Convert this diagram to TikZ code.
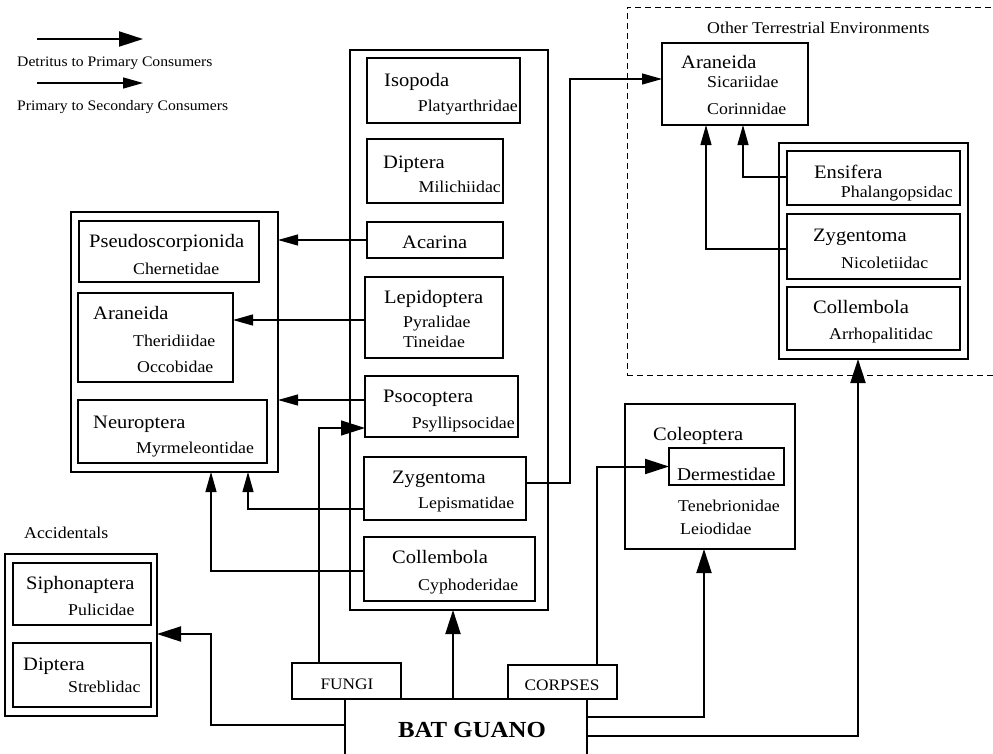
\documentclass[tikz,border=0pt]{standalone}
\usepackage{fontspec}
\setmainfont{Liberation Serif}[FakeStretch=1.08]
\usetikzlibrary{arrows.meta,calc}
\newcommand\mkbox[6]{\node[#1,minimum width={(#5-#3)*1pt},minimum height={(#6-#4)*1pt}] (#2) at ({(#3+#5)/2},{(#4+#6)/2}) {};}
\begin{document}
\begin{tikzpicture}[x=1pt,y=-1pt,
  inbox/.style={draw,rectangle,inner sep=0pt,outer sep=0pt,line width=1.1pt},
  outbox/.style={inbox,line width=2.4pt},
  dashbox/.style={draw,rectangle,inner sep=0pt,outer sep=0pt,line width=0.8pt,dash pattern=on 6pt off 4pt},
  ord/.style={inner sep=0pt,font=\fontsize{19}{21}\selectfont},
  fam/.style={inner sep=0pt,font=\fontsize{16.5}{19}\selectfont},
  lgd/.style={inner sep=0pt,font=\fontsize{14.5}{17}\selectfont},
  srcbox/.style={inner sep=0pt,font=\fontsize{16}{18}\selectfont},
  secarr/.style={line width=1.1pt,-{Triangle[length=20pt,width=11pt]}},
  detarr/.style={line width=2pt,-{Triangle[length=24pt,width=15pt]}},
]
\useasboundingbox (0,0) rectangle (993,753);
\clip (0,0) rectangle (993,753);

% legend
\coordinate (l1a) at (37,39); \coordinate (l1b) at (143,39);
\coordinate (l2a) at (37,83); \coordinate (l2b) at (143,83);
\draw[detarr] (l1a) -- (l1b);
\draw[secarr,line width=1.4pt] (l2a) -- (l2b);
\node[lgd,anchor=base west] (lg1) at (17,66) {Detritus to Primary Consumers};
\node[lgd,anchor=base west] (lg2) at (17,110) {Primary to Secondary Consumers};

% central column
\mkbox{outbox}{cen}{350}{50}{548}{610}
\mkbox{inbox}{iso}{367}{58}{520}{123}
\mkbox{inbox}{dip}{367}{139}{503}{203}
\mkbox{inbox}{aca}{367}{222}{503}{258}
\mkbox{inbox}{lep}{365}{277}{503}{358}
\mkbox{inbox}{pso}{365}{376}{518}{437}
\mkbox{inbox}{zyg}{364}{457}{526}{520}
\mkbox{inbox}{col}{364}{537}{535}{601}
\node[ord,anchor=base west] (t1) at (384,86) {Isopoda};
\node[fam,anchor=base east] (t2) at (518,111) {Platyarthridae};
\node[ord,anchor=base west] (t3) at (383,168) {Diptera};
\node[fam,anchor=base east] (t4) at (501,192) {Milichiidac};
\node[ord,anchor=base west] (t5) at (402,248) {Acarina};
\node[ord,anchor=base west] (t6) at (384,303) {Lepidoptera};
\node[fam,anchor=base west] (t7) at (403,327) {Pyralidae};
\node[fam,anchor=base west] (t8) at (403,347) {Tineidae};
\node[ord,anchor=base west] (t9) at (383,402) {Psocoptera};
\node[fam,anchor=base east] (t10) at (515,428) {Psyllipsocidae};
\node[ord,anchor=base west] (t11) at (392,483) {Zygentoma};
\node[fam,anchor=base west] (t12) at (418,508) {Lepismatidae};
\node[ord,anchor=base west] (t13) at (392,563) {Collembola};
\node[fam,anchor=base west] (t14) at (418,590) {Cyphoderidae};

% predators (left)
\mkbox{outbox}{pred}{71}{212}{278}{472}
\mkbox{inbox}{pse}{79}{221}{259}{282}
\mkbox{inbox}{ara}{78}{293}{233}{382}
\mkbox{inbox}{neu}{78}{400}{267}{463}
\node[ord,anchor=base west] (p1) at (89,247) {Pseudoscorpionida};
\node[fam,anchor=base west] (p2) at (133,274) {Chernetidae};
\node[ord,anchor=base west] (p3) at (93,319) {Araneida};
\node[fam,anchor=base west] (p4) at (133,346) {Theridiidae};
\node[fam,anchor=base west] (p5) at (137,372) {Occobidae};
\node[ord,anchor=base west] (p6) at (93,428) {Neuroptera};
\node[fam,anchor=base west] (p7) at (136,453) {Myrmeleontidae};

% other terrestrial environments
\mkbox{dashbox}{oter}{627}{7}{1010}{375}
\node[fam,anchor=base west] (o0) at (707,33) {Other Terrestrial Environments};
\mkbox{inbox}{araR}{662}{43}{808}{125}
\node[ord,anchor=base west] (o1) at (681,68) {Araneida};
\node[fam,anchor=base west] (o2) at (707,87) {Sicariidae};
\node[fam,anchor=base west] (o3) at (707,114) {Corinnidae};
\mkbox{outbox}{rbox}{779}{143}{968}{359}
\mkbox{inbox}{ens}{787}{151}{960}{205}
\mkbox{inbox}{zygR}{787}{214}{960}{279}
\mkbox{inbox}{colR}{787}{287}{960}{350}
\node[ord,anchor=base west] (o4) at (814,178) {Ensifera};
\node[fam,anchor=base east] (o5) at (953,197) {Phalangopsidac};
\node[ord,anchor=base west] (o6) at (813,241) {Zygentoma};
\node[fam,anchor=base west] (o7) at (841,268) {Nicoletiidac};
\node[ord,anchor=base west] (o8) at (813,313) {Collembola};
\node[fam,anchor=base west] (o9) at (829,339) {Arrhopalitidac};

% coleoptera
\mkbox{inbox}{cole}{625}{404}{795}{549}
\mkbox{inbox}{derm}{669}{448}{784}{485}
\node[ord,anchor=base west] (c1) at (653,440) {Coleoptera};
\node[fam,anchor=base west,font=\fontsize{18}{20}\selectfont] (c2) at (677,480) {Dermestidae};
\node[fam,anchor=base west] (c3) at (678,511) {Tenebrionidae};
\node[fam,anchor=base west] (c4) at (680,534) {Leiodidae};

% accidentals
\node[fam,anchor=base west] (a0) at (24,538) {Accidentals};
\mkbox{outbox}{acc}{5}{554}{157}{716}
\mkbox{inbox}{sip}{13}{563}{151}{625}
\mkbox{inbox}{dipA}{13}{643}{151}{707}
\node[ord,anchor=base west] (a1) at (26,589) {Siphonaptera};
\node[fam,anchor=base west] (a2) at (68,615) {Pulicidae};
\node[ord,anchor=base west] (a3) at (23,670) {Diptera};
\node[fam,anchor=base west] (a4) at (68,692) {Streblidac};

% sources
\mkbox{inbox}{guano}{345}{699}{587}{775}
\mkbox{inbox,fill=white}{fungi}{292}{663}{401}{699}
\mkbox{inbox}{corpses}{508}{665}{617}{699}
\node[srcbox,anchor=base] (s1) at (347,689) {FUNGI};
\node[srcbox,anchor=base] (s2) at (562,690) {CORPSES};
\node[inner sep=0pt,anchor=base,font=\fontsize{23}{26}\selectfont\bfseries] (s3) at (472,737) {BAT GUANO};

% connectors: primary to secondary
\draw[secarr] (aca.west) -- (aca.west -| pred.east);
\draw[secarr] ([yshift=-2.5pt]lep.west) -- ([yshift=-2.5pt]lep.west -| ara.east);
\draw[secarr] ([yshift=6.5pt]pso.west) -- ([yshift=6.5pt]pso.west -| pred.east);
\coordinate (zb) at (248,472);
\draw[secarr] ([yshift=-20.5pt]zyg.west) -| (pred.south -| zb);
\coordinate (cb) at (211,472);
\draw[secarr] ([yshift=-2pt]col.west) -| (pred.south -| cb);
\coordinate (zbend) at (570,79);
\draw[secarr] ([yshift=5.5pt]zyg.east) -| (zbend) -- (zbend -| araR.west);
\coordinate (eb) at (743,125);
\draw[secarr] ([yshift=1pt]ens.west) -| (araR.south -| eb);
\coordinate (zrb) at (706,125);
\draw[secarr] ([yshift=-2.5pt]zygR.west) -| (araR.south -| zrb);

% connectors: detritus to primary
\coordinate (fb) at (319,663);
\draw[detarr,line width=1.3pt] (fb |- fungi.north) |- ([yshift=-21.5pt]pso.west);
\coordinate (gc) at (453,610);
\draw[detarr] (gc |- guano.north) -- (gc |- cen.south);
\coordinate (ab) at (211,634);
\draw[detarr] ([yshift=12pt]guano.west) -| (ab) -- (ab -| acc.east);
\coordinate (cpb) at (597,665);
\draw[detarr] (cpb |- corpses.north) |- (derm.west);
\coordinate (clb) at (704,548);
\draw[detarr] ([yshift=20pt]guano.east) -| (cole.south -| clb);
\coordinate (rbb) at (858,359);
\draw[detarr] ([yshift=1pt]guano.east) -| (rbox.south -| rbb);
\end{tikzpicture}
\end{document}
